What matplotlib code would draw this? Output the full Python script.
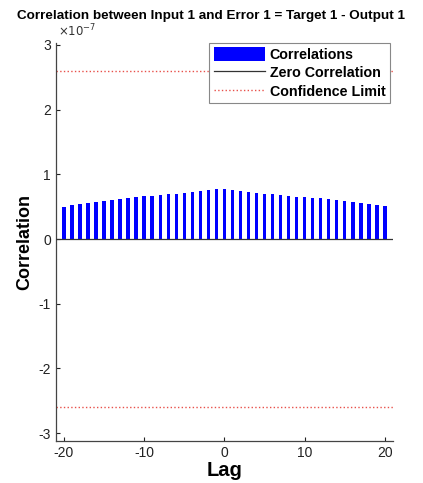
import numpy as np
import matplotlib.pyplot as plt
from matplotlib.ticker import FuncFormatter
from matplotlib.patches import Patch
from matplotlib.lines import Line2D

plt.rcParams['font.family'] = ['Liberation Sans', 'DejaVu Sans']
plt.rcParams['axes.unicode_minus'] = False

# correlation values, in units of 1e-7
lags = list(range(-20, 21))
corr_e7 = [0.50, 0.52, 0.54, 0.555, 0.575, 0.595, 0.61, 0.625, 0.64, 0.65,
           0.66, 0.67, 0.68, 0.69, 0.70, 0.71, 0.725, 0.745, 0.76, 0.77,
           0.775,
           0.76, 0.745, 0.73, 0.715, 0.70, 0.69, 0.68, 0.67, 0.657, 0.65,
           0.64, 0.63, 0.62, 0.605, 0.59, 0.575, 0.56, 0.545, 0.525, 0.505]
conf_limit_e7 = 2.6
title = 'Correlation between Input 1 and Error 1 = Target 1 - Output 1'

conf_color = '#e8504a'


def main():
    corr = np.array(corr_e7) * 1e-7
    conf = conf_limit_e7 * 1e-7

    fig = plt.figure(figsize=(4.23, 4.83), dpi=100)
    ax = fig.add_axes([0.132, 0.087, 0.797, 0.824])

    ax.bar(lags, corr, width=0.42, color=(0, 0, 1), zorder=2)
    ax.plot([-21, 21], [0, 0], color='#333333', lw=0.9, zorder=3)
    ax.plot([-21, 21], [conf, conf], ':', color=conf_color, lw=1.0)
    ax.plot([-21, 21], [-conf, -conf], ':', color=conf_color, lw=1.0)

    ax.set_xlim(-21, 21)
    ax.set_ylim(-3.12e-7, 3.03e-7)
    ax.set_xticks([-20, -10, 0, 10, 20])
    ax.set_yticks(np.arange(-3, 4) * 1e-7)
    ax.yaxis.set_major_formatter(FuncFormatter(lambda v, p: '%g' % round(v * 1e7, 6)))
    ax.text(0.005, 1.01, r'$\times10^{-7}$', transform=ax.transAxes, fontsize=8.5,
            color='#333333', ha='left', va='bottom')

    for side in ['top', 'right']:
        ax.spines[side].set_visible(False)
    for side in ['left', 'bottom']:
        ax.spines[side].set_color('#444444')
        ax.spines[side].set_linewidth(0.9)
    ax.tick_params(direction='in', length=3, labelsize=10, colors='#222222', width=0.8)

    ax.set_title(title, fontsize=9.7, fontweight='bold', pad=17, x=0.46)
    ax.set_xlabel('Lag', fontsize=14.5, fontweight='bold', labelpad=1)
    ax.set_ylabel('Correlation', fontsize=13, fontweight='bold', labelpad=4)

    handles = [Patch(facecolor=(0, 0, 1), edgecolor='none'),
               Line2D([], [], color='#333333', lw=0.9),
               Line2D([], [], color=conf_color, lw=1.0, ls=':')]
    labels = ['Correlations', 'Zero Correlation', 'Confidence Limit']
    leg = ax.legend(handles, labels, loc='upper right',
                    prop={'weight': 'bold', 'size': 10.3},
                    handlelength=3.6, handleheight=1.1, handletextpad=0.3,
                    borderpad=0.3, labelspacing=0.25, borderaxespad=0.0,
                    fancybox=False, framealpha=1,
                    bbox_to_anchor=(0.99, 1.0))
    leg.get_frame().set_edgecolor('#888888')
    leg.get_frame().set_linewidth(0.8)

    fig.savefig('out.png', dpi=100)


if __name__ == '__main__':
    main()
